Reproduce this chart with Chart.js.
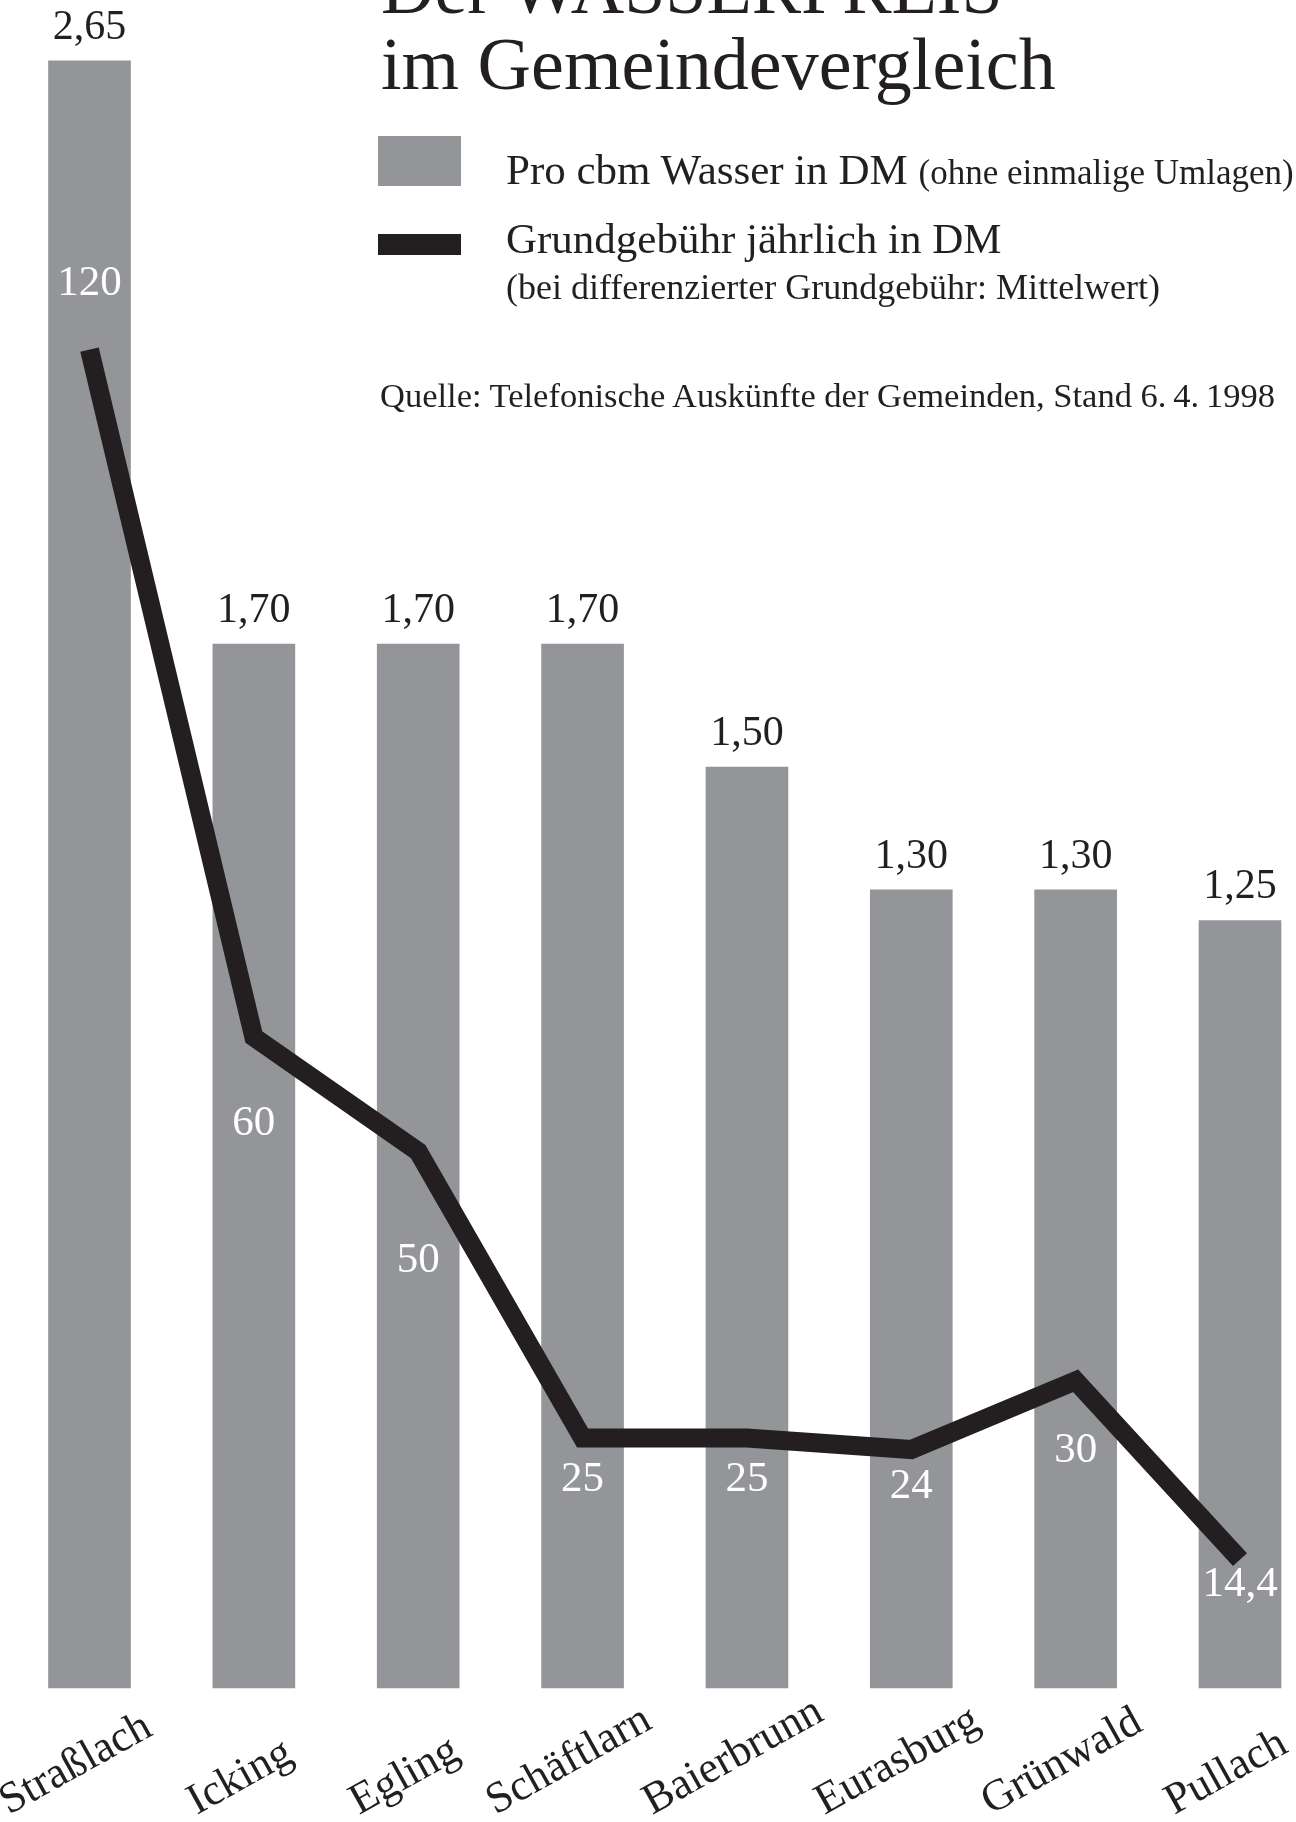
<!DOCTYPE html>
<html lang="de">
<head>
<meta charset="utf-8">
<title>Der Wasserpreis im Gemeindevergleich</title>
<script src="https://cdn.jsdelivr.net/npm/chart.js@4/dist/chart.umd.min.js"></script>
<style>
  html, body { margin:0; padding:0; width:1296px; height:1822px; overflow:hidden; background:#fff; }
  body { position:relative; font-family:"Liberation Serif","Times New Roman",serif; color:#231f20; }
  #chart { position:absolute; left:0; top:0; }
  .t { position:absolute; white-space:nowrap; line-height:1; }
  .title { font-size:74px; left:381px; }
  .leg { font-size:43px; left:506px; }
  .leg small { font-size:35px; }
  .sub { font-size:36px; left:506px; }
  .src { font-size:34.5px; left:380px; }
  .swatch { position:absolute; left:378px; width:83px; }
</style>
</head>
<body>
<canvas id="chart" width="1296" height="1822"></canvas>

<div class="t title" style="top:-49px">Der WASSERPREIS</div>
<div class="t title" style="top:27px">im Gemeindevergleich</div>

<div class="swatch" style="top:136px;height:50px;background:#939598"></div>
<div class="t leg" style="top:148px">Pro cbm Wasser in DM <small>(ohne einmalige Umlagen)</small></div>

<div class="swatch" style="top:234px;height:21px;background:#231f20"></div>
<div class="t leg" style="top:217px">Grundgebühr jährlich in DM</div>
<div class="t sub" style="top:269px">(bei differenzierter Grundgebühr: Mittelwert)</div>

<div class="t src" style="top:378px">Quelle: Telefonische Auskünfte der Gemeinden, Stand 6.&#8201;4.&#8201;1998</div>

<script>
// ---- data ----
const categories = ['Straßlach', 'Icking', 'Egling', 'Schäftlarn', 'Baierbrunn', 'Eurasburg', 'Grünwald', 'Pullach'];
const pricePerCbm = [2.65, 1.70, 1.70, 1.70, 1.50, 1.30, 1.30, 1.25];   // DM pro cbm
const baseFee = [120, 60, 50, 25, 25, 24, 30, 14.4];                  // Grundgebühr jährlich in DM

const fmtPrice = v => v.toFixed(2).replace('.', ',');
const fmtFee = v => String(v).replace('.', ',');

const INK = '#231f20';
const GREY = '#939598';
const SERIF = '"Liberation Serif","Times New Roman",serif';

const labelPlugin = {
  id: 'valueLabels',
  afterDatasetsDraw(chart, args, opts) {
    const ctx = chart.ctx;
    const xs = chart.scales.x, ys = chart.scales.y, y2 = chart.scales.y2;
    ctx.save();
    ctx.textBaseline = 'alphabetic';
    ctx.textAlign = 'center';

    // price labels above bars
    ctx.fillStyle = INK;
    ctx.font = '42px ' + SERIF;
    pricePerCbm.forEach((v, i) => {
      ctx.fillText(fmtPrice(v), xs.getPixelForValue(i), ys.getPixelForValue(v) - opts.priceGap);
    });

    // base fee labels (white, inside bars)
    ctx.fillStyle = '#ffffff';
    ctx.font = '43px ' + SERIF;
    baseFee.forEach((v, i) => {
      ctx.fillText(fmtFee(v), xs.getPixelForValue(i), y2.getPixelForValue(v) + opts.feeOffsets[i]);
    });

    // rotated category labels
    ctx.fillStyle = INK;
    ctx.font = '44px ' + SERIF;
    ctx.textAlign = 'left';
    const a = opts.catAngle * Math.PI / 180;
    const baseY = chart.chartArea.bottom + opts.catOffsetY;
    categories.forEach((c, i) => {
      const w = ctx.measureText(c).width;
      const cx = xs.getPixelForValue(i) + opts.catShiftX;
      ctx.save();
      ctx.translate(cx - (w / 2) * Math.cos(a), baseY);
      ctx.rotate(-a);
      ctx.fillText(c, 0, 0);
      ctx.restore();
    });
    ctx.restore();
  }
};

new Chart(document.getElementById('chart'), {
  type: 'bar',
  data: {
    labels: categories,
    datasets: [
      {
        type: 'line',
        label: 'Grundgebühr jährlich in DM',
        data: baseFee,
        yAxisID: 'y2',
        borderColor: INK,
        borderWidth: 19,
        borderJoinStyle: 'miter',
        borderCapStyle: 'butt',
        pointRadius: 0,
        pointHoverRadius: 0,
        tension: 0,
        fill: false,
        clip: false,
        order: 0
      },
      {
        type: 'bar',
        label: 'Pro cbm Wasser in DM',
        data: pricePerCbm,
        yAxisID: 'y',
        backgroundColor: GREY,
        borderWidth: 0,
        barThickness: 82,
        clip: false,
        order: 1
      }
    ]
  },
  options: {
    responsive: false,
    animation: false,
    devicePixelRatio: 1,
    events: [],
    layout: { padding: { left: 89.5, right: 56, top: 40, bottom: 134 } },
    plugins: {
      legend: { display: false },
      title: { display: false },
      tooltip: { enabled: false },
      valueLabels: {
        priceGap: 22,
        feeOffsets: [-55, 98, 120, 53, 53, 48, 81, 36],
        catAngle: 29,
        catShiftX: -8,
        catOffsetY: 127
      }
    },
    scales: {
      x: { display: false, offset: false },
      y: { display: false, min: 0, max: 2.684 },
      y2: { display: false, min: 3.19, max: 147.02 }
    }
  },
  plugins: [labelPlugin]
});
</script>
</body>
</html>
